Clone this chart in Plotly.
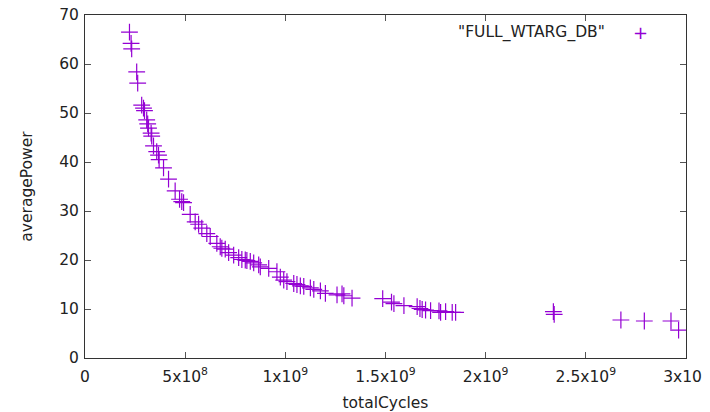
import plotly.graph_objects as go

series_name = '"FULL_WTARG_DB"'
total_cycles = [0.222e9, 0.230e9, 0.233e9, 0.258e9, 0.263e9, 0.283e9, 0.292e9, 0.297e9, 0.308e9, 0.313e9,
                0.317e9, 0.330e9, 0.333e9, 0.342e9, 0.358e9, 0.367e9, 0.370e9, 0.392e9, 0.417e9, 0.450e9,
                0.472e9, 0.483e9, 0.492e9, 0.525e9, 0.550e9, 0.567e9, 0.583e9, 0.608e9, 0.625e9, 0.658e9,
                0.675e9, 0.683e9, 0.700e9, 0.717e9, 0.742e9, 0.767e9, 0.783e9, 0.800e9, 0.808e9, 0.825e9,
                0.842e9, 0.867e9, 0.875e9, 0.917e9, 0.958e9, 0.975e9, 0.992e9, 1.008e9, 1.042e9, 1.058e9,
                1.075e9, 1.092e9, 1.125e9, 1.142e9, 1.175e9, 1.200e9, 1.258e9, 1.283e9, 1.292e9, 1.333e9,
                1.486e9, 1.530e9, 1.542e9, 1.592e9, 1.658e9, 1.672e9, 1.683e9, 1.700e9, 1.725e9, 1.767e9,
                1.775e9, 1.800e9, 1.833e9, 1.850e9, 2.338e9, 2.342e9, 2.675e9, 2.792e9, 2.925e9, 2.963e9]
average_power = [66.5, 64.2, 63.1, 58.4, 56.1, 51.6, 51.0, 50.5, 48.6, 47.8,
                 46.9, 45.9, 45.3, 43.3, 42.1, 41.4, 40.5, 38.8, 36.5, 34.1,
                 32.4, 31.9, 31.7, 29.3, 27.8, 27.3, 26.5, 25.4, 24.8, 23.4,
                 22.7, 22.4, 22.2, 21.5, 21.0, 20.5, 20.1, 20.0, 19.9, 19.7,
                 19.4, 19.0, 18.6, 18.3, 17.6, 16.5, 15.9, 15.6, 15.2, 15.0,
                 14.7, 14.6, 14.3, 14.0, 13.7, 13.2, 12.9, 13.1, 12.7, 12.2,
                 12.1, 11.4, 11.1, 10.7, 10.5, 10.1, 9.9, 9.8, 9.65, 9.6,
                 9.3, 9.45, 9.3, 9.3, 9.45, 8.9, 7.75, 7.55, 7.55, 5.7]

x_tickvals = [0, 0.5e9, 1e9, 1.5e9, 2e9, 2.5e9, 3e9]
x_ticktext = ["0", "5x10<sup>8</sup>", "1x10<sup>9</sup>", "1.5x10<sup>9</sup>",
              "2x10<sup>9</sup>", "2.5x10<sup>9</sup>", "3x10<sup>9</sup>"]
y_tickvals = [0, 10, 20, 30, 40, 50, 60, 70]

color = "#9400D3"
font = dict(family="DejaVu Sans", size=15.5, color="#222")

fig = go.Figure()
fig.add_trace(go.Scatter(
    x=total_cycles, y=average_power, mode="markers", name=series_name,
    marker=dict(symbol="cross-thin-open", size=12, color=color, line=dict(color=color, width=1.2)),
    showlegend=False,
))

fig.add_annotation(x=0.8686, y=0.95, xref="paper", yref="paper", text=series_name,
                   showarrow=False, xanchor="right", yanchor="middle", font=font)
fig.add_annotation(x=0.9235, y=0.95, xref="paper", yref="paper", text="+",
                   showarrow=False, xanchor="center", yanchor="middle",
                   font=dict(family="DejaVu Sans", size=18, color=color))

axis_common = dict(showline=True, linecolor="#333", linewidth=1, mirror="allticks",
                   ticks="inside", ticklen=6, tickcolor="#555", showgrid=False, zeroline=False,
                   tickfont=font, automargin=False, ticklabeloverflow="allow")

fig.update_xaxes(range=[0, 3e9], tickvals=x_tickvals, ticktext=x_ticktext, ticklabelstandoff=4,
                 title=dict(text="totalCycles", font=font, standoff=22), **axis_common)
fig.update_yaxes(range=[0, 70], tickvals=y_tickvals, ticklabelstandoff=2,
                 title=dict(text="averagePower", font=font, standoff=22), **axis_common)

fig.update_layout(width=702, height=404, margin=dict(l=77, r=24, t=7, b=54),
                  plot_bgcolor="white", paper_bgcolor="white", font=font)

fig.write_html("out.html")
